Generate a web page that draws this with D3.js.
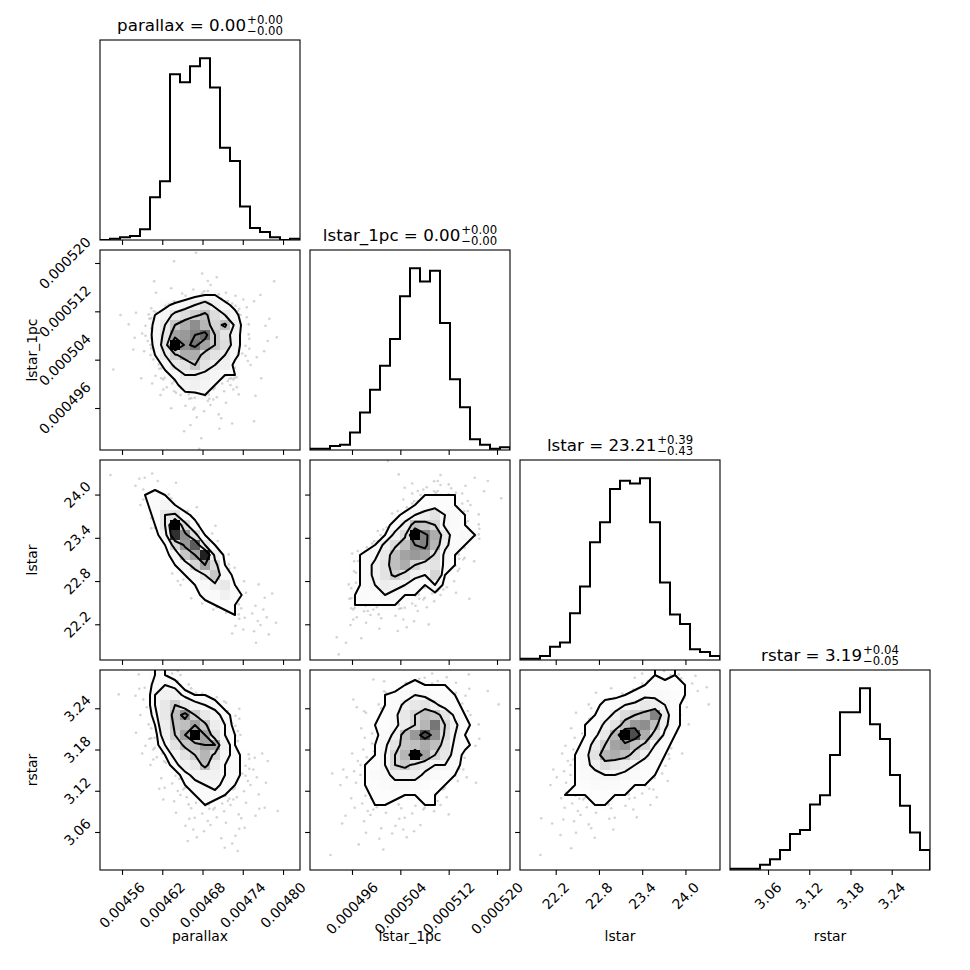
<!DOCTYPE html>
<html>
<head>
<meta charset="utf-8">
<script src="https://cdn.jsdelivr.net/npm/d3@7"></script>
<style>
  body { margin: 0; background: #fff; }
  text { font-family: "DejaVu Sans", sans-serif; fill: #000; }
</style>
</head>
<body>
<div id="chart"></div>
<script>
// ---- parameters ----
const names = ['parallax', 'lstar_1pc', 'lstar', 'rstar'];
const ranges = [
  [0.0045272, 0.0048253],
  [0.00048905, 0.00052215],
  [21.7045, 24.4795],
  [3.0047, 3.2957]
];
const tickValues = [
  [0.00456, 0.00462, 0.00468, 0.00474, 0.00480],
  [0.000496, 0.000504, 0.000512, 0.000520],
  [22.2, 22.8, 23.4, 24.0],
  [3.06, 3.12, 3.18, 3.24]
];
const tickLabels = [
  ['0.00456', '0.00462', '0.00468', '0.00474', '0.00480'],
  ['0.000496', '0.000504', '0.000512', '0.000520'],
  ['22.2', '22.8', '23.4', '24.0'],
  ['3.06', '3.12', '3.18', '3.24']
];
const titleMain = ['0.00', '0.00', '23.21', '3.19'];
const titleUp = ['+0.00', '+0.00', '+0.39', '+0.04'];
const titleDown = ['\u22120.00', '\u22120.00', '\u22120.43', '\u22120.05'];

// ---- 1D histograms (20 bins) ----
const histParallax = [0, 1, 2, 3, 8, 32, 44, 124, 118, 130, 136, 114, 69, 59, 25, 9, 6, 2, 0, 1];
const histLstar1pc = [1, 1, 3, 4, 13, 28, 45, 63, 83, 115, 136, 126, 134, 95, 53, 32, 8, 4, 1, 2];
const histLstar = [1, 1, 3, 10, 13, 35, 55, 88, 103, 128, 134, 132, 136, 103, 58, 34, 27, 8, 6, 3];
const histRstar = [1, 1, 1, 4, 8, 15, 27, 30, 49, 56, 86, 118, 118, 136, 109, 98, 71, 48, 28, 15];

// ---- 2D histograms, 20x20, rows from top (high y) to bottom ----
const gridLstar1pcParallax = [
  [0,0,0,0,0,0,0,0,0,1,0,0,0,0,0,0,0,0,0,0],
  [0,0,0,0,0,0,0,1,0,0,0,0,0,0,0,0,0,0,0,0],
  [0,0,0,0,0,0,0,0,0,0,1,1,0,0,0,0,0,0,0,0],
  [0,0,0,0,0,1,0,1,0,1,1,1,0,0,0,0,0,1,0,0],
  [0,0,0,0,0,1,0,0,2,3,4,4,2,1,1,0,1,0,0,0],
  [0,0,0,0,0,1,3,5,6,8,10,7,5,3,1,1,0,0,0,0],
  [0,0,1,1,2,4,6,9,11,13,15,11,8,5,2,0,1,0,0,0],
  [0,0,1,0,1,5,8,14,17,20,16,12,15,7,2,0,1,0,0,0],
  [0,0,0,1,2,5,9,18,19,21,23,14,10,6,2,0,0,1,0,0],
  [0,0,0,1,1,5,10,30,20,22,18,14,11,6,2,0,1,0,0,0],
  [0,0,0,0,1,4,8,13,17,17,12,10,8,5,2,1,1,0,0,0],
  [0,1,0,0,0,2,5,9,10,14,10,8,7,3,1,1,0,0,0,0],
  [0,0,0,0,1,1,3,5,8,8,7,6,4,4,0,0,1,0,0,0],
  [0,0,0,0,0,1,2,3,6,7,6,4,2,3,0,0,0,0,0,0],
  [0,0,0,0,0,0,1,2,3,3,4,2,1,1,0,1,0,0,0,0],
  [0,0,0,0,0,0,0,1,1,2,1,1,1,0,0,0,0,0,0,0],
  [0,0,0,0,0,0,0,0,0,1,1,1,1,0,0,0,0,0,0,0],
  [0,0,0,0,0,0,0,0,0,1,0,1,0,1,0,1,0,0,0,0],
  [0,0,0,0,0,0,0,0,1,0,1,0,0,0,0,0,0,0,0,0],
  [0,0,0,0,0,0,0,0,0,1,0,0,0,0,0,0,0,0,0,0]
];
const gridLstarParallax = [
  [0,0,0,0,0,0,0,0,0,0,0,0,0,0,0,0,0,0,0,0],
  [0,1,0,1,1,1,0,0,0,0,0,0,0,0,0,0,0,0,0,0],
  [0,0,0,1,1,1,0,1,0,0,0,0,0,0,0,0,0,0,0,0],
  [0,0,0,0,2,3,2,1,0,0,0,0,0,0,0,0,0,0,0,0],
  [0,0,0,0,1,4,6,2,0,1,0,0,0,0,0,0,0,0,0,0],
  [0,0,0,0,0,3,9,10,3,1,0,0,0,0,0,0,0,0,0,0],
  [0,0,0,0,0,2,9,30,11,3,0,1,0,0,0,0,0,0,0,0],
  [0,0,0,0,0,0,6,27,20,11,2,1,0,0,0,0,0,0,0,0],
  [0,0,0,0,0,0,2,12,19,24,9,2,0,0,0,0,0,0,0,0],
  [0,0,0,0,0,0,0,5,14,18,28,7,1,0,0,0,0,0,0,0],
  [0,0,0,0,0,0,0,2,6,12,18,11,2,1,0,0,0,0,0,0],
  [0,0,0,0,0,0,0,1,2,5,9,14,4,1,0,0,0,0,0,0],
  [0,0,0,0,0,0,0,1,1,2,5,8,9,2,1,1,0,0,0,0],
  [0,0,0,0,0,0,0,0,0,1,3,4,7,4,1,0,1,1,0,0],
  [0,0,0,0,0,0,0,0,0,0,1,2,3,2,1,1,1,0,0,0],
  [0,0,0,0,0,0,0,0,0,0,0,0,1,2,1,1,1,0,0,0],
  [0,0,0,0,0,0,0,0,0,0,0,0,0,1,1,1,1,1,0,0],
  [0,0,0,0,0,0,0,0,0,0,0,0,0,1,0,1,1,0,0,0],
  [0,0,0,0,0,0,0,0,0,0,0,0,0,0,0,1,0,0,0,0],
  [0,0,0,0,0,0,0,0,0,0,0,0,0,0,0,0,0,0,0,0]
];
const gridLstarLstar1pc = [
  [0,0,0,0,0,0,0,1,0,0,0,0,0,0,0,0,0,0,0,0],
  [0,0,0,0,0,0,0,0,1,0,0,0,0,1,0,0,1,0,0,0],
  [0,0,0,0,0,0,0,0,0,1,1,2,2,2,1,1,0,1,0,0],
  [0,0,0,0,0,0,0,0,0,1,2,3,3,3,3,1,0,1,0,1],
  [0,0,0,0,0,0,0,0,0,1,3,3,4,3,3,2,1,0,0,0],
  [0,0,0,0,0,0,0,0,2,4,6,8,10,6,4,3,1,0,0,0],
  [0,0,0,0,0,0,0,2,4,7,15,14,12,5,4,3,2,0,0,0],
  [0,0,0,0,0,0,1,3,7,11,30,21,17,9,3,5,3,0,0,0],
  [0,0,0,0,0,1,3,7,11,15,20,21,16,7,4,3,0,0,0,0],
  [0,0,0,0,2,4,5,9,15,18,19,18,11,5,3,2,0,0,0,0],
  [0,0,0,0,2,4,7,10,15,17,12,9,10,5,3,0,1,0,0,0],
  [0,0,0,0,2,4,7,10,13,10,7,6,12,3,1,0,0,0,0,0],
  [0,0,0,1,2,4,6,8,7,6,4,3,6,2,1,0,0,0,0,0],
  [0,0,0,1,3,4,3,6,5,3,3,2,2,1,1,1,0,0,0,0],
  [0,0,0,0,3,3,3,3,3,2,2,1,1,0,0,0,0,0,0,0],
  [0,0,0,0,2,2,2,1,1,1,1,0,0,0,0,0,0,0,0,0],
  [0,0,0,0,1,1,1,0,0,1,1,1,0,0,0,0,0,0,0,0],
  [0,0,1,0,0,1,0,0,1,0,0,0,0,0,0,0,0,0,0,0],
  [0,0,0,1,0,0,0,0,0,0,0,0,0,0,0,0,0,0,0,0],
  [0,0,1,0,0,0,0,0,0,0,0,0,0,0,0,0,0,0,0,0]
];
const gridRstarParallax = [
  [0,0,0,1,0,3,3,2,1,0,0,0,0,0,0,0,0,0,0,0],
  [0,0,0,1,1,4,5,4,2,1,0,0,0,0,0,0,0,0,0,0],
  [0,1,0,1,1,5,7,7,4,3,3,2,0,0,0,0,0,0,0,0],
  [0,0,0,0,1,5,9,13,9,6,5,4,2,1,0,0,0,0,0,0],
  [0,0,0,0,1,4,9,15,20,13,9,6,4,2,0,0,0,0,0,0],
  [0,0,0,0,1,3,8,14,15,18,14,8,5,2,0,0,0,0,0,0],
  [0,0,0,1,1,2,7,13,18,30,18,10,5,3,1,0,0,0,0,0],
  [0,0,0,0,1,2,5,10,14,15,18,18,7,3,0,0,0,0,0,0],
  [0,0,0,0,1,2,3,6,10,13,16,12,6,4,2,1,1,0,0,0],
  [0,0,0,0,0,1,2,4,7,9,15,8,5,4,2,1,1,0,0,0],
  [0,0,0,0,0,0,1,2,4,6,7,7,5,4,2,1,0,0,0,0],
  [0,0,0,0,0,1,1,1,3,4,5,6,4,3,1,1,1,0,0,0],
  [0,0,0,0,0,0,1,1,2,3,4,4,3,2,1,1,0,0,0,0],
  [0,0,0,0,0,0,0,1,1,2,3,2,2,1,1,1,1,0,0,0],
  [0,0,0,0,0,0,0,1,1,1,1,1,1,1,1,1,0,1,0,0],
  [0,0,0,0,0,0,0,0,1,1,1,1,1,1,1,0,0,0,0,0],
  [0,0,0,0,0,0,0,0,0,1,1,0,1,1,0,0,0,0,0,0],
  [0,0,0,0,0,0,0,0,1,0,0,0,1,1,0,0,0,0,0,0],
  [0,0,0,0,0,0,0,0,0,0,0,0,0,1,0,0,0,0,0,0],
  [0,0,0,0,0,0,0,0,0,0,0,0,0,0,0,0,0,0,0,0]
];
const gridRstarLstar1pc = [
  [0,0,0,0,0,0,1,0,0,0,1,1,1,1,0,1,0,0,0,0],
  [0,0,0,0,0,0,0,1,0,2,3,2,2,2,1,1,0,0,0,0],
  [0,0,0,0,1,0,0,2,3,4,6,5,3,3,2,1,0,1,0,0],
  [0,0,0,0,1,0,1,2,4,7,9,10,7,4,3,1,0,0,1,0],
  [0,0,0,0,0,2,1,3,5,9,12,15,14,10,5,2,1,0,0,0],
  [0,0,0,0,0,1,2,3,5,8,12,16,22,12,7,3,1,0,0,0],
  [0,0,0,0,0,1,1,4,7,15,19,25,20,11,6,2,1,0,0,0],
  [0,0,0,0,0,1,2,5,10,14,15,17,15,10,5,3,1,0,0,0],
  [0,0,0,0,1,1,2,6,12,16,30,18,12,9,4,1,0,0,0,0],
  [0,0,0,1,1,2,3,6,12,14,10,8,6,6,3,1,0,0,0,0],
  [0,0,1,1,1,2,4,5,7,7,8,5,4,3,2,1,0,0,0,0],
  [0,0,0,1,1,2,3,4,5,5,4,3,2,2,1,0,1,0,0,0],
  [0,0,0,0,1,1,3,3,3,2,2,2,2,1,0,0,0,0,0,0],
  [0,0,0,0,1,1,2,2,1,1,1,2,2,1,0,0,0,0,0,0],
  [0,0,0,1,0,1,1,1,1,1,1,0,1,1,0,0,0,0,0,0],
  [0,0,0,1,0,1,0,1,1,1,0,1,0,0,0,0,0,0,0,0],
  [0,0,0,0,0,1,1,0,1,1,1,0,0,0,0,0,0,0,0,0],
  [0,0,0,0,1,0,0,1,0,0,0,0,0,0,0,0,0,0,0,0],
  [0,0,1,0,0,0,0,0,0,0,0,0,0,0,0,0,0,0,0,0],
  [0,0,0,0,0,0,0,0,0,0,0,0,0,0,0,0,0,0,0,0]
];
const gridRstarLstar = [
  [0,0,0,0,0,0,0,0,0,0,0,1,1,2,1,2,1,1,0,0],
  [0,0,0,0,0,0,0,0,0,1,0,1,2,3,3,2,2,1,1,0],
  [0,0,0,0,0,0,0,1,1,1,2,3,5,5,4,3,2,1,0,0],
  [0,0,0,0,0,0,1,1,3,4,6,7,9,8,6,3,1,0,1,0],
  [0,0,0,0,0,1,1,2,4,7,11,13,15,21,8,3,1,0,0,0],
  [0,0,0,0,0,1,2,3,7,10,15,19,20,15,7,3,1,0,0,0],
  [0,0,0,0,0,1,2,5,9,16,30,25,17,11,5,2,0,0,0,0],
  [0,0,0,0,1,1,3,8,13,18,19,15,12,6,3,1,0,0,0,0],
  [0,0,0,0,1,2,4,10,16,17,15,11,7,4,2,0,1,0,0,0],
  [0,0,0,1,1,2,5,7,11,9,8,6,4,3,1,0,0,0,0,0],
  [0,0,0,1,1,2,4,5,6,6,5,4,3,2,1,0,0,0,0,0],
  [0,0,0,1,1,2,3,4,4,4,3,2,2,1,1,0,0,0,0,0],
  [0,0,0,0,2,2,2,2,3,2,2,1,1,1,0,0,0,0,0,0],
  [0,0,0,0,1,1,1,2,2,1,1,1,0,1,0,0,0,0,0,0],
  [0,0,1,0,1,1,1,1,1,1,0,1,0,0,0,0,0,0,0,0],
  [0,0,0,1,0,1,1,1,0,1,0,0,0,0,0,0,0,0,0,0],
  [0,0,0,0,1,1,0,1,0,0,0,0,0,0,0,0,0,0,0,0],
  [0,0,0,0,0,1,0,0,0,0,0,0,0,0,0,0,0,0,0,0],
  [0,0,1,0,0,0,0,0,0,0,0,0,0,0,0,0,0,0,0,0],
  [0,0,0,0,0,0,0,0,0,0,0,0,0,0,0,0,0,0,0,0]
];

const hists = [histParallax, histLstar1pc, histLstar, histRstar];
const grids = {
  '1-0': gridLstar1pcParallax, '2-0': gridLstarParallax, '2-1': gridLstarLstar1pc,
  '3-0': gridRstarParallax, '3-1': gridRstarLstar1pc, '3-2': gridRstarLstar
};

// ---- layout ----
const colX = [100, 310, 520, 730];
const rowY = [40, 250, 460, 670];
const S = 200;
const tickLen = 4.9;
const sigmas = [0.5, 1, 1.5, 2];
const jitter = [[0.22,0.35],[0.68,0.72],[0.41,0.12],[0.87,0.44],[0.12,0.83],[0.55,0.58],
                [0.33,0.95],[0.78,0.1],[0.05,0.5],[0.6,0.28],[0.93,0.88],[0.47,0.78]];

const svg = d3.select('#chart').append('svg')
  .attr('width', 970)
  .attr('height', 970);
const defs = svg.append('defs');

function xScaleFor(k, left) {
  return d3.scaleLinear().domain(ranges[k]).range([left, left + S]);
}
function yScaleFor(k, top) {
  return d3.scaleLinear().domain(ranges[k]).range([top + S, top]);
}

// contour levels the way corner does it (mass fractions)
function cornerLevels(H) {
  const levels = sigmas.map(s => 1 - Math.exp(-0.5 * s * s));
  const flat = H.flat().sort((a, b) => b - a);
  const total = d3.sum(flat);
  let cum = 0;
  const sm = flat.map(v => (cum += v) / total);
  const V = levels.map(l => {
    let last = null;
    for (let k = 0; k < flat.length; k++) if (sm[k] <= l) last = flat[k];
    return last === null ? flat[0] : last;
  });
  V.sort((a, b) => a - b);
  let idx = V.findIndex((v, k) => k > 0 && v === V[k - 1]);
  while (idx > 0) {
    V[idx - 1] *= 1 - 1e-4;
    V.sort((a, b) => a - b);
    idx = V.findIndex((v, k) => k > 0 && v === V[k - 1]);
  }
  return V;
}

function addClip(id, left, top) {
  defs.append('clipPath').attr('id', id)
    .append('rect').attr('x', left).attr('y', top).attr('width', S).attr('height', S);
}

function frame(left, top) {
  svg.append('rect')
    .attr('x', left).attr('y', top).attr('width', S).attr('height', S)
    .attr('fill', 'none').attr('stroke', '#000').attr('stroke-width', 1.1);
}

function bottomTicks(k, left, top) {
  const x = xScaleFor(k, left);
  const ax = svg.append('g')
    .attr('transform', `translate(0, ${top + S})`)
    .call(d3.axisBottom(x).tickValues(tickValues[k]).tickSize(tickLen).tickFormat(''));
  ax.select('.domain').remove();
  ax.selectAll('line').attr('stroke-width', 1.1);
}

function leftTicks(k, left, top) {
  const y = yScaleFor(k, top);
  const ax = svg.append('g')
    .attr('transform', `translate(${left}, 0)`)
    .call(d3.axisLeft(y).tickValues(tickValues[k]).tickSize(tickLen).tickFormat(''));
  ax.select('.domain').remove();
  ax.selectAll('line').attr('stroke-width', 1.1);
}

function xTickLabels(k, left) {
  const x = xScaleFor(k, left);
  tickValues[k].forEach((v, n) => {
    const t = svg.append('text')
      .style('font-size', '13.9px')
      .attr('text-anchor', 'middle')
      .attr('dominant-baseline', 'central')
      .text(tickLabels[k][n]);
    const w = t.node().getComputedTextLength();
    const half = (w + 16.2) * Math.SQRT1_2 / 2;
    t.attr('transform', `translate(${x(v)}, ${rowY[3] + S + 9 + half}) rotate(-45)`);
  });
}

function yTickLabels(k, top) {
  const y = yScaleFor(k, top);
  tickValues[k].forEach((v, n) => {
    const t = svg.append('text')
      .style('font-size', '13.9px')
      .attr('text-anchor', 'middle')
      .attr('dominant-baseline', 'central')
      .text(tickLabels[k][n]);
    const w = t.node().getComputedTextLength();
    const half = (w + 16.2) * Math.SQRT1_2 / 2;
    t.attr('transform', `translate(${colX[0] - 6 - half}, ${y(v)}) rotate(-45)`);
  });
}

function title(k) {
  const cx = colX[k] + S / 2;
  const base = rowY[k] - 9.5;
  const g = svg.append('g');
  const main = g.append('text').attr('x', 0).attr('y', base)
    .style('font-size', '16.7px').text(`${names[k]} = ${titleMain[k]}`);
  const w1 = main.node().getComputedTextLength();
  const up = g.append('text').attr('x', w1 + 1).attr('y', base - 6.5)
    .style('font-size', '11.7px').text(titleUp[k]);
  const dn = g.append('text').attr('x', w1 + 1).attr('y', base + 4.5)
    .style('font-size', '11.7px').text(titleDown[k]);
  const w2 = Math.max(up.node().getComputedTextLength(), dn.node().getComputedTextLength());
  g.attr('transform', `translate(${cx - (w1 + 1 + w2) / 2}, 0)`);
}

// ---- diagonal histograms ----
function drawHist(k) {
  const left = colX[k], top = rowY[k];
  const counts = hists[k];
  const x = xScaleFor(k, left);
  const y = d3.scaleLinear().domain([0, 1.1 * d3.max(counts)]).range([top + S, top]);
  const bw = (ranges[k][1] - ranges[k][0]) / counts.length;
  const pts = [[ranges[k][0], 0]];
  counts.forEach((c, i) => {
    pts.push([ranges[k][0] + i * bw, c]);
    pts.push([ranges[k][0] + (i + 1) * bw, c]);
  });
  pts.push([ranges[k][1], 0]);

  addClip(`clip-h${k}`, left, top);
  svg.append('g').attr('clip-path', `url(#clip-h${k})`)
    .append('path')
    .attr('d', d3.line().x(d => x(d[0])).y(d => y(d[1]))(pts))
    .attr('fill', 'none')
    .attr('stroke', '#000')
    .attr('stroke-width', 2)
    .attr('stroke-linejoin', 'miter');

  bottomTicks(k, left, top);
  frame(left, top);
  title(k);
}

// ---- off-diagonal 2D histograms ----
function draw2d(i, j) {
  const H = grids[`${i}-${j}`];
  const left = colX[j], top = rowY[i];
  const x = xScaleFor(j, left);
  const y = yScaleFor(i, top);
  const nb = H.length;
  const bx = (ranges[j][1] - ranges[j][0]) / nb;
  const by = (ranges[i][1] - ranges[i][0]) / nb;

  addClip(`clip-${i}-${j}`, left, top);
  const g = svg.append('g').attr('clip-path', `url(#clip-${i}-${j})`);

  // data points, one per sample in each cell
  const dots = [];
  H.forEach((row, r) => row.forEach((n, c) => {
    for (let m = 0; m < n; m++) {
      const o = jitter[(r * 7 + c * 13 + m * 5) % jitter.length];
      dots.push([ranges[j][0] + (c + o[0]) * bx, ranges[i][1] - (r + o[1]) * by]);
    }
  }));
  g.append('g').selectAll('circle')
    .data(dots)
    .join('circle')
    .attr('cx', d => x(d[0]))
    .attr('cy', d => y(d[1]))
    .attr('r', 1.3)
    .attr('fill', '#000')
    .attr('fill-opacity', 0.18);

  // padded grid for contouring
  const V = cornerLevels(H);
  const n2 = nb + 4;
  const hmin = d3.min(H.flat());
  const H2 = new Array(n2 * n2).fill(hmin);
  const at = (r, c) => r * n2 + c;
  for (let r = 0; r < nb; r++) {
    for (let c = 0; c < nb; c++) H2[at(r + 2, c + 2)] = H[r][c];
    H2[at(r + 2, 1)] = H[r][0];
    H2[at(r + 2, n2 - 2)] = H[r][nb - 1];
  }
  for (let c = 0; c < nb; c++) {
    H2[at(1, c + 2)] = H[0][c];
    H2[at(n2 - 2, c + 2)] = H[nb - 1][c];
  }
  H2[at(1, 1)] = H[0][0];
  H2[at(1, n2 - 2)] = H[0][nb - 1];
  H2[at(n2 - 2, 1)] = H[nb - 1][0];
  H2[at(n2 - 2, n2 - 2)] = H[nb - 1][nb - 1];

  const gx = d3.scaleLinear().domain([2, n2 - 2]).range([left, left + S]);
  const gy = d3.scaleLinear().domain([2, n2 - 2]).range([top, top + S]);
  const path = d3.geoPath(d3.geoTransform({
    point(px, py) { this.stream.point(gx(px), gy(py)); }
  }));
  const cs = d3.contours().size([n2, n2]).thresholds(V)(H2);

  // white base fill hides the densest points
  g.append('path').attr('d', path(cs[0])).attr('fill', '#fff');

  // density cells
  const hmax = d3.max(H.flat());
  const cells = [];
  H.forEach((row, r) => row.forEach((n, c) => { if (n > 0) cells.push({ r, c, n }); }));
  g.append('g').selectAll('rect')
    .data(cells)
    .join('rect')
    .attr('x', d => x(ranges[j][0] + d.c * bx))
    .attr('y', d => y(ranges[i][1] - d.r * by))
    .attr('width', d => x(ranges[j][0] + (d.c + 1) * bx) - x(ranges[j][0] + d.c * bx))
    .attr('height', d => y(ranges[i][1] - (d.r + 1) * by) - y(ranges[i][1] - d.r * by))
    .attr('shape-rendering', 'crispEdges')
    .attr('fill', d => {
      const v = Math.round(255 * (1 - d.n / hmax));
      return `rgb(${v},${v},${v})`;
    })
    .attr('fill-opacity', d => d.n / hmax);

  // contour lines
  g.append('g').selectAll('path')
    .data(cs)
    .join('path')
    .attr('d', path)
    .attr('fill', 'none')
    .attr('stroke', '#000')
    .attr('stroke-width', 2)
    .attr('stroke-linejoin', 'round');

  bottomTicks(j, left, top);
  leftTicks(i, left, top);
  frame(left, top);
}

for (let k = 0; k < 4; k++) drawHist(k);
for (let i = 1; i < 4; i++) for (let j = 0; j < i; j++) draw2d(i, j);

// tick labels on outer edges
for (let k = 0; k < 4; k++) xTickLabels(k, colX[k]);
for (let i = 1; i < 4; i++) yTickLabels(i, rowY[i]);

// axis labels
names.forEach((n, k) => {
  svg.append('text')
    .attr('x', colX[k] + S / 2)
    .attr('y', 941)
    .attr('text-anchor', 'middle')
    .style('font-size', '13.9px')
    .text(n);
});
for (let i = 1; i < 4; i++) {
  svg.append('text')
    .attr('transform', `translate(36.7, ${rowY[i] + S / 2}) rotate(-90)`)
    .attr('text-anchor', 'middle')
    .style('font-size', '13.9px')
    .text(names[i]);
}
</script>
</body>
</html>
